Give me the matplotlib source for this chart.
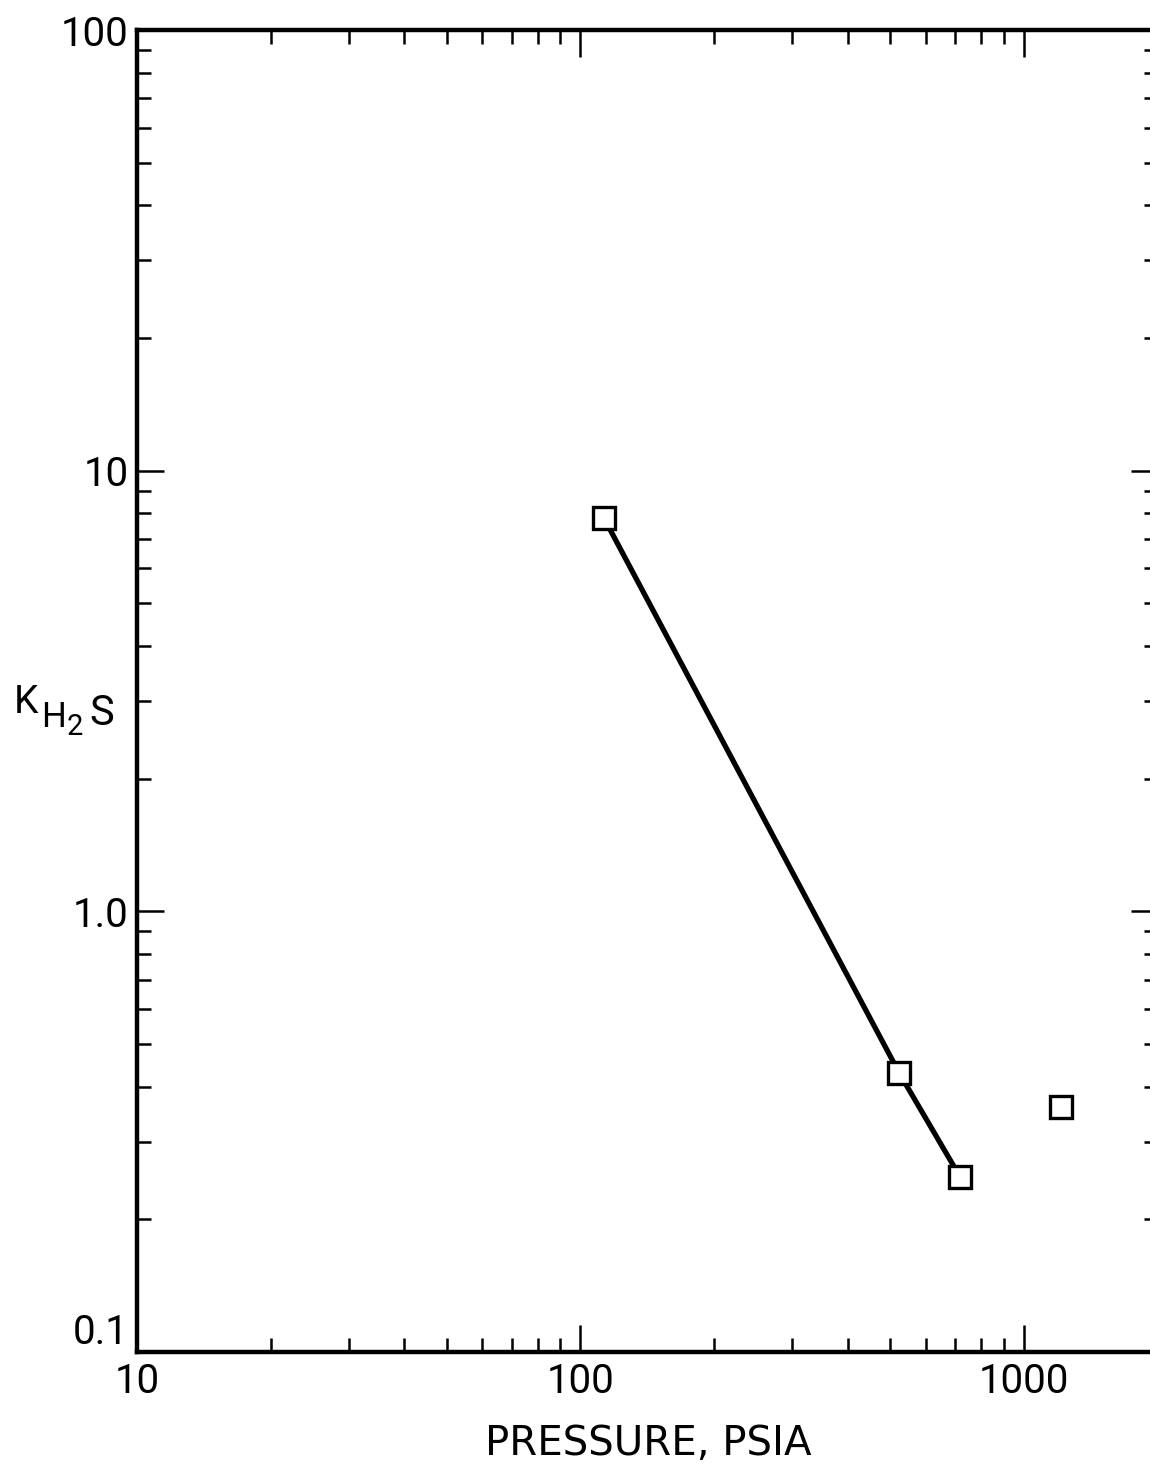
import matplotlib
matplotlib.use("Agg")
import matplotlib.pyplot as plt
from matplotlib.ticker import FixedLocator, FixedFormatter, LogLocator, NullFormatter

# Distribution coefficient of H2S versus pressure
pressure_psia = [113, 523, 717]
k_h2s = [7.8, 0.43, 0.25]
extra_pressure = [1210]
extra_k = [0.36]

x_ticks = [10, 100, 1000]
x_tick_labels = ["10", "100", "1000"]
y_ticks = [0.1, 1.0, 10, 100]
y_tick_labels = ["0.1", "1.0", "10", "100"]

W, H = 1150, 1466
fig = plt.figure(figsize=(W / 100, H / 100), dpi=100)
plt.rcParams["font.family"] = ["Roboto", "DejaVu Sans"]

left_px, right_px, top_px, bottom_px = 137, 1157.5, 30, 1352
ax = fig.add_axes([left_px / W, (H - bottom_px) / H,
                   (right_px - left_px) / W, (bottom_px - top_px) / H])
ax.set_xscale("log")
ax.set_yscale("log")
ax.set_xlim(10, 2000)
ax.set_ylim(0.1, 100)

ax.plot(pressure_psia, k_h2s, color="black", lw=3.8, solid_capstyle="butt", zorder=2)
ax.plot(pressure_psia + extra_pressure, k_h2s + extra_k, linestyle="none",
        marker="s", markersize=16, markerfacecolor="white",
        markeredgecolor="black", markeredgewidth=2.4, zorder=3)

ax.xaxis.set_major_locator(FixedLocator(x_ticks))
ax.xaxis.set_major_formatter(FixedFormatter(x_tick_labels))
ax.yaxis.set_major_locator(FixedLocator(y_ticks))
ax.yaxis.set_major_formatter(FixedFormatter(y_tick_labels))
for axis in (ax.xaxis, ax.yaxis):
    axis.set_minor_locator(LogLocator(base=10, subs=range(2, 10), numticks=20))
    axis.set_minor_formatter(NullFormatter())

ax.tick_params(which="both", direction="in", top=True, right=True,
               width=1.8, color="black")
ax.tick_params(which="major", length=19.5, labelsize=29, pad=7)
ax.tick_params(which="minor", length=10)
ax.tick_params(axis="y", which="major", pad=6)

for s in ax.spines.values():
    s.set_linewidth(3.2)

fig.canvas.draw()
for lab in ax.get_yticklabels():
    if lab.get_text() == "0.1":
        lab.set_verticalalignment("bottom")

fig.text(648 / W, 1 - 1455 / H, "PRESSURE, PSIA", fontsize=29,
         family=["DejaVu Sans"], ha="center", va="baseline")

# y-axis label K with subscript H2S
def put(x, y, s, size):
    fig.text(x / W, 1 - y / H, s, fontsize=size, ha="left", va="baseline")

put(14, 713, "K", 28)
put(41, 727, "H", 25)
put(67, 735, "2", 21)
put(89, 725, "S", 30)

fig.savefig("out.png", dpi=100)
